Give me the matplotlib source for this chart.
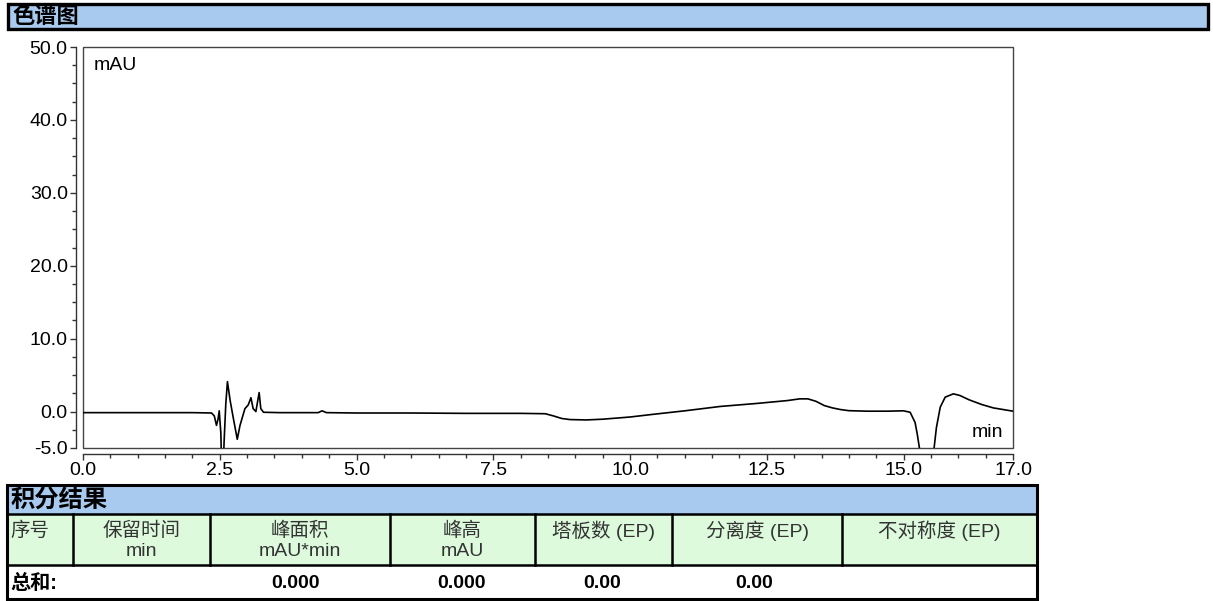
import matplotlib
matplotlib.use("Agg")
import matplotlib.pyplot as plt
from matplotlib.patches import Rectangle
from matplotlib.ticker import FixedLocator, MultipleLocator, FormatStrFormatter

plt.rcParams['font.family'] = ['Liberation Sans', 'Noto Sans CJK SC', 'DejaVu Sans']

# ---- chromatogram data ----
time_min = [0.0, 1.0, 2.0, 2.35, 2.40, 2.44, 2.47, 2.49, 2.52, 2.535, 2.56, 2.58,
            2.61, 2.64, 2.69, 2.75, 2.82, 2.87, 2.96, 3.02, 3.07, 3.11, 3.16,
            3.22, 3.25, 3.30, 3.6, 4.3, 4.37, 4.45, 5.0, 6.0, 7.0, 8.0, 8.45,
            8.6, 8.75, 8.9, 9.2, 9.5, 10.0, 10.4, 11.0, 11.65, 12.3, 12.87,
            13.1, 13.25, 13.4, 13.55, 13.7, 13.85, 14.0, 14.33, 14.7, 15.0,
            15.12, 15.21, 15.25, 15.30, 15.35, 15.5, 15.55, 15.6, 15.67, 15.76,
            15.91, 16.03, 16.2, 16.43, 16.64, 16.8, 17.0]
signal_mau = [-0.15, -0.15, -0.15, -0.2, -0.6, -1.9, -1.0, 0.1, -3.0, -8.0, -8.0, -4.0,
              1.0, 4.1, 1.5, -1.0, -3.8, -1.9, 0.4, 0.9, 1.9, 0.4, 0.0,
              2.6, 0.4, -0.1, -0.15, -0.15, 0.1, -0.15, -0.2, -0.2, -0.25, -0.25, -0.3,
              -0.6, -0.95, -1.1, -1.15, -1.05, -0.75, -0.4, 0.1, 0.7, 1.1, 1.5,
              1.74, 1.74, 1.4, 0.82, 0.5, 0.27, 0.12, 0.05, 0.05, 0.1,
              -0.1, -1.5, -3.1, -5.5, -9.0, -9.0, -5.5, -2.2, 0.6, 1.97,
              2.43, 2.2, 1.6, 0.96, 0.5, 0.3, 0.05]

x_major = [0.0, 2.5, 5.0, 7.5, 10.0, 12.5, 15.0, 17.0]
y_major = [-5.0, 0.0, 10.0, 20.0, 30.0, 40.0, 50.0]

col_edges = [7, 73, 210, 390, 535, 672, 842, 1037]
col_line1 = ["序号", "保留时间", "峰面积", "峰高", "塔板数 (EP)", "分离度 (EP)", "不对称度 (EP)"]
col_line2 = ["", "min", "mAU*min", "mAU", "", "", ""]
total_label = "总和:"
total_values = ["0.000", "0.000", "0.00", "0.00"]
total_x = [296, 462, 602, 754]

W, H = 1213, 601
fig = plt.figure(figsize=(W / 100, H / 100), dpi=100)

BLUE = '#A8CAEE'
GREEN = '#DDFADD'

# ---- main chromatogram axes ----
ax = fig.add_axes([83 / W, 1 - 448 / H, 930 / W, 401 / H])
ax.plot(time_min, signal_mau, color='black', lw=1.2)
ax.set_xlim(0, 17)
ax.set_ylim(-5, 50)
for s in ['top', 'right']:
    ax.spines[s].set_visible(False)
ax.spines['left'].set_position(('outward', 5))
ax.spines['bottom'].set_position(('outward', 4))
for s in ['left', 'bottom']:
    ax.spines[s].set_color('#333333')
    ax.spines[s].set_linewidth(1.0)
ax.add_patch(Rectangle((0, 0), 1, 1, transform=ax.transAxes, fill=False,
                       ec='#444444', lw=1.0, clip_on=False))
ax.xaxis.set_major_locator(FixedLocator(x_major))
ax.xaxis.set_minor_locator(MultipleLocator(0.5))
ax.yaxis.set_major_locator(FixedLocator(y_major))
ax.yaxis.set_minor_locator(MultipleLocator(2.5))
ax.xaxis.set_major_formatter(FormatStrFormatter('%.1f'))
ax.yaxis.set_major_formatter(FormatStrFormatter('%.1f'))
ax.tick_params(which='major', length=4, width=1, color='#333333', labelsize=14, pad=2)
ax.tick_params(which='minor', length=3, width=1, color='#333333')
ax.text(0.011, 0.975, "mAU", transform=ax.transAxes, ha='left', va='top', fontsize=14)
ax.text(0.989, 0.027, "min", transform=ax.transAxes, ha='right', va='baseline', fontsize=14)

# ---- overlay in pixel coordinates ----
ov = fig.add_axes([0, 0, 1, 1])
ov.set_xlim(0, W)
ov.set_ylim(H, 0)
ov.axis('off')

# title bar
ov.add_patch(Rectangle((8, 4), 1200, 25, fc=BLUE, ec='black', lw=2.4))
ov.text(12, 17, "色谱图", ha='left', va='center', fontsize=16, fontweight='bold')

# table
ov.add_patch(Rectangle((7, 485), 1030, 29, fc=BLUE, ec='none'))
ov.add_patch(Rectangle((7, 514), 1030, 51, fc=GREEN, ec='none'))
ov.add_patch(Rectangle((7, 565), 1030, 34, fc='white', ec='none'))
ov.plot([7, 1037], [514, 514], color='black', lw=1.8)
ov.plot([7, 1037], [565, 565], color='black', lw=1.8)
for xe in col_edges[1:-1]:
    ov.plot([xe, xe], [514, 565], color='black', lw=1.8)
ov.add_patch(Rectangle((7, 485), 1030, 114, fill=False, ec='black', lw=2.2))
ov.text(11, 500, "积分结果", ha='left', va='center', fontsize=17.5, fontweight='bold')

for i, (l1, l2) in enumerate(zip(col_line1, col_line2)):
    if i == 0:
        ov.text(10, 531, l1, ha='left', va='center', fontsize=14, color='#333333')
        continue
    xc = (col_edges[i] + col_edges[i + 1]) / 2
    ov.text(xc, 531, l1, ha='center', va='center', fontsize=14, color='#333333')
    if l2:
        ov.text(xc, 552, l2, ha='center', va='center', fontsize=14, color='#333333')

ov.text(10, 583, total_label, ha='left', va='center', fontsize=14.5, fontweight='bold')
for xv, v in zip(total_x, total_values):
    ov.text(xv, 583, v, ha='center', va='center', fontsize=14, fontweight='bold')

fig.savefig("out.png", dpi=100)
